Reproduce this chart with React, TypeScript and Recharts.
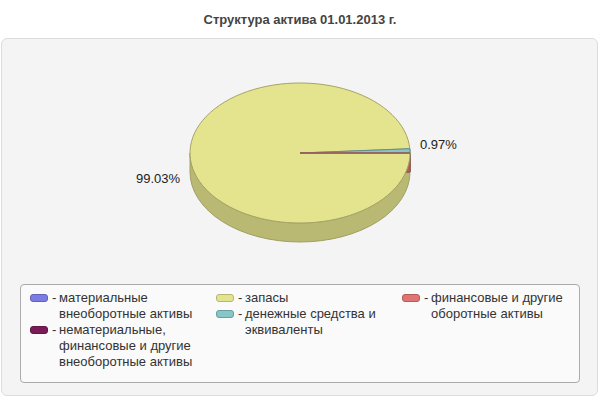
import React from 'react';
import { PieChart, Pie, Legend } from 'recharts';

const NAMES = [
  'материальные внеоборотные активы',
  'нематериальные, финансовые и другие внеоборотные активы',
  'запасы',
  'денежные средства и эквиваленты',
  'финансовые и другие оборотные активы',
];
const SHARES = [0, 0, 99.03, 0.97, 0.004];
const COLORS = ['#7b7be6', '#7a1b57', '#e5e48e', '#85c6c6', '#e07472'];

const data = NAMES.map((name, i) => ({ name, value: SHARES[i] }));

const TILT = 70 / 110;
const DEPTH = 19;
const RAD = Math.PI / 180;
const FONT = '"Liberation Sans", Arial, sans-serif';

const shade = (hex: string, f: number) =>
  '#' +
  [1, 3, 5]
    .map((i) => Math.min(255, Math.round(parseInt(hex.slice(i, i + 2), 16) * f)).toString(16).padStart(2, '0'))
    .join('');

// point on the tilted (elliptical) rim
const rim = (cx: number, cy: number, r: number, a: number, dy = 0) => [
  cx + r * Math.cos(a * RAD),
  cy - r * TILT * Math.sin(a * RAD) + dy,
];

// side walls: drawn through the first pie's label hook, using its computed angles
const renderWalls = (p: any) => {
  const { cx, cy, outerRadius: r, startAngle, endAngle, index } = p;
  const lo = Math.min(startAngle, endAngle);
  const hi = Math.max(startAngle, endAngle);
  if (hi - lo <= 0) return <g />;
  const ry = r * TILT;
  const side = shade(COLORS[index], 0.81);
  const edge = shade(COLORS[index], 0.7);
  const parts: React.ReactNode[] = [];
  for (let k = -2; k <= 1; k++) {
    const a = Math.max(lo, -180 + 360 * k);
    const b = Math.min(hi, 360 * k);
    if (b > a) {
      const [x1, y1] = rim(cx, cy, r, b);
      const [x2, y2] = rim(cx, cy, r, a);
      parts.push(
        <path
          key={`o${k}`}
          d={`M${x1},${y1} A${r},${ry} 0 0 1 ${x2},${y2} L${x2},${y2 + DEPTH} A${r},${ry} 0 0 0 ${x1},${y1 + DEPTH} Z`}
          fill={side}
          stroke={edge}
          strokeWidth={1}
        />
      );
    }
  }
  [startAngle, endAngle].forEach((a: number, j: number) => {
    const [x, y] = rim(cx, cy, r, a);
    parts.push(
      <path
        key={`r${j}`}
        d={`M${cx},${cy} L${x},${y} L${x},${y + DEPTH} L${cx},${cy + DEPTH} Z`}
        fill={side}
        stroke={edge}
        strokeWidth={1}
      />
    );
  });
  return <g>{parts}</g>;
};

// top faces and percentage labels
const renderTops = (p: any) => {
  const { cx, cy, outerRadius: r, startAngle, endAngle, index, percent } = p;
  if (Math.abs(startAngle - endAngle) <= 0) return <g />;
  const ry = r * TILT;
  const [x1, y1] = rim(cx, cy, r, startAngle);
  const [x2, y2] = rim(cx, cy, r, endAngle);
  const large = Math.abs(startAngle - endAngle) > 180 ? 1 : 0;
  const sweep = startAngle > endAngle ? 1 : 0;
  const mid = (startAngle + endAngle) / 2;
  const left = Math.cos(mid * RAD) < 0;
  const lx = cx + (r + 10) * Math.cos(mid * RAD);
  const ly = cy - ry * Math.sin(mid * RAD) + (left ? 23 : -6);
  return (
    <g>
      <path
        d={`M${cx},${cy} L${x1},${y1} A${r},${ry} 0 ${large} ${sweep} ${x2},${y2} Z`}
        fill={COLORS[index]}
        stroke={shade(COLORS[index], 0.72)}
        strokeWidth={1}
      />
      {percent >= 0.001 && (
        <text
          x={lx}
          y={ly}
          textAnchor={left ? 'end' : 'start'}
          dominantBaseline="central"
          fill="#222"
          fontSize={13}
          fontFamily={FONT}
        >
          {(percent * 100).toFixed(2)}%
        </text>
      )}
    </g>
  );
};

const renderLegend = (props: any) => {
  const seen = new Set<string>();
  const items = (props.payload ?? [])
    .filter((it: any) => {
      if (it.type === 'none' || seen.has(it.value)) return false;
      seen.add(it.value);
      return true;
    })
    .sort((a: any, b: any) => NAMES.indexOf(a.value) - NAMES.indexOf(b.value));
  const cols = [items.slice(0, 2), items.slice(2, 4), items.slice(4)];
  return (
    <div
      style={{
        boxSizing: 'border-box',
        width: 560,
        height: 99,
        border: '1px solid #ababab',
        borderRadius: 4,
        background: '#fafafa',
        display: 'flex',
        padding: '5px 0 0 9px',
        fontFamily: FONT,
        fontSize: 13,
        lineHeight: '16px',
        color: '#333',
        textAlign: 'left',
      }}
    >
      {cols.map((col: any[], ci: number) => (
        <div key={ci} style={{ width: ci < 2 ? 186 : 160, flex: 'none' }}>
          {col.map((it: any) => {
            const idx = NAMES.indexOf(it.value);
            return (
              <div key={it.value} style={{ display: 'flex', alignItems: 'flex-start' }}>
                <div
                  style={{
                    boxSizing: 'border-box',
                    width: 18,
                    height: 8,
                    marginTop: 4,
                    borderRadius: 3,
                    background: COLORS[idx],
                    border: `1px solid ${shade(COLORS[idx], 0.8)}`,
                    flex: 'none',
                  }}
                />
                <span style={{ width: 7, marginLeft: 4, flex: 'none' }}>-</span>
                <span style={{ width: 150, flex: 'none' }}>{it.value}</span>
              </div>
            );
          })}
        </div>
      ))}
    </div>
  );
};

export default function App() {
  return (
    <div style={{ position: 'fixed', left: 0, top: 0, width: 600, height: 400, background: '#fff', fontFamily: FONT }}>
      <div
        style={{
          position: 'absolute',
          left: 0,
          top: 12,
          width: 600,
          textAlign: 'center',
          fontWeight: 'bold',
          fontSize: 13,
          lineHeight: '16px',
          color: '#444',
        }}
      >
        Структура актива 01.01.2013 г.
      </div>
      <div
        style={{
          position: 'absolute',
          left: 1,
          top: 38,
          width: 597,
          height: 358,
          boxSizing: 'border-box',
          border: '1px solid #dcdcdc',
          borderRadius: 6,
          background: '#f4f4f4',
        }}
      />
      <div style={{ position: 'absolute', left: 0, top: 0 }}>
        <PieChart width={600} height={400} margin={{ top: 0, right: 0, bottom: 0, left: 0 }}>
          <Pie
            data={data}
            dataKey="value"
            nameKey="name"
            cx={300}
            cy={153}
            outerRadius={110}
            startAngle={0}
            endAngle={-360}
            fill="none"
            stroke="none"
            label={renderWalls}
            labelLine={false}
            legendType="rect"
            isAnimationActive={false}
          />
          <Pie
            data={data}
            dataKey="value"
            nameKey="name"
            cx={300}
            cy={153}
            outerRadius={110}
            startAngle={0}
            endAngle={-360}
            fill="none"
            stroke="none"
            label={renderTops}
            labelLine={false}
            legendType="none"
            isAnimationActive={false}
          />
          <Legend content={renderLegend} wrapperStyle={{ left: 20, top: 284, width: 560, height: 99 }} />
        </PieChart>
      </div>
    </div>
  );
}
